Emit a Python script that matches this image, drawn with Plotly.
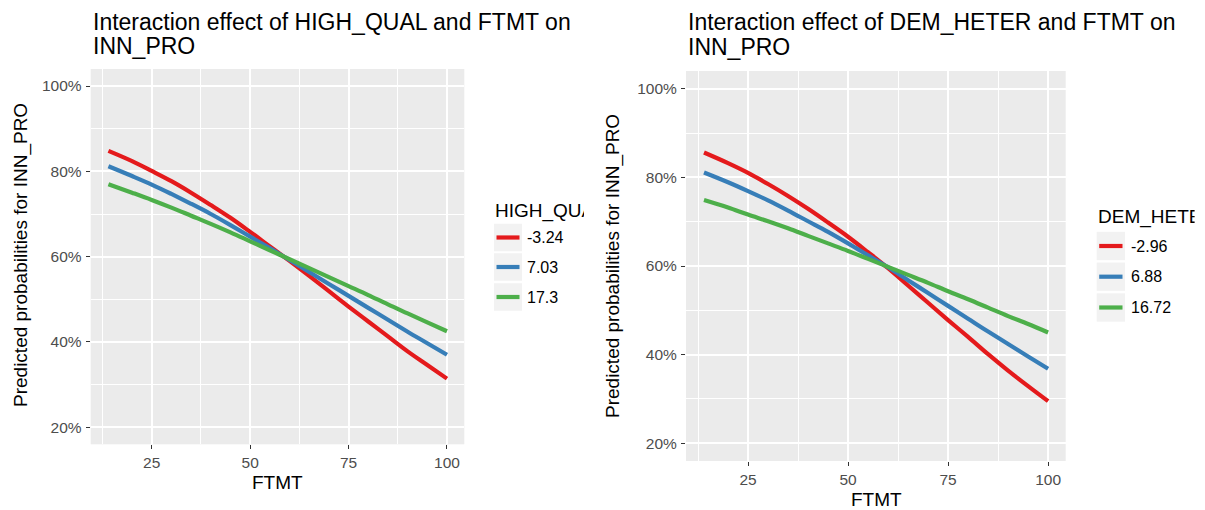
import plotly.graph_objects as go

W, H = 1205, 510
OFF = 8  # default page body margin in the written html

# ---------------- data ----------------
ftmt = [14, 20, 25, 30, 35, 40, 45, 50, 55, 60, 65, 70, 75, 80, 85, 90, 95, 100]

hq_levels = ["-3.24", "7.03", "17.3"]
hq_red = [0.848, 0.824, 0.801, 0.777, 0.750, 0.721, 0.691, 0.658, 0.624, 0.590, 0.555, 0.519,
          0.483, 0.448, 0.413, 0.378, 0.346, 0.314]
hq_blue = [0.812, 0.789, 0.769, 0.747, 0.724, 0.700, 0.674, 0.647, 0.620, 0.592, 0.564, 0.536,
           0.508, 0.480, 0.452, 0.424, 0.397, 0.370]
hq_green = [0.770, 0.750, 0.733, 0.715, 0.696, 0.677, 0.657, 0.636, 0.615, 0.594, 0.573, 0.552,
            0.531, 0.510, 0.488, 0.467, 0.446, 0.425]

dh_levels = ["-2.96", "6.88", "16.72"]
dh_red = [0.856, 0.832, 0.810, 0.785, 0.758, 0.729, 0.698, 0.666, 0.631, 0.595, 0.556, 0.517,
          0.478, 0.440, 0.401, 0.364, 0.329, 0.295]
dh_blue = [0.811, 0.789, 0.769, 0.748, 0.725, 0.701, 0.677, 0.651, 0.624, 0.597, 0.568, 0.539,
           0.510, 0.481, 0.452, 0.424, 0.396, 0.368]
dh_green = [0.749, 0.732, 0.716, 0.701, 0.685, 0.668, 0.651, 0.634, 0.616, 0.598, 0.580, 0.562,
            0.543, 0.525, 0.506, 0.487, 0.469, 0.450]

x_ticks = [25, 50, 75, 100]
y_ticks = [0.2, 0.4, 0.6, 0.8, 1.0]
y_tick_labels = ["20%", "40%", "60%", "80%", "100%"]

titles = ["Interaction effect of HIGH_QUAL and FTMT on", "Interaction effect of DEM_HETER and FTMT on"]
title_line2 = "INN_PRO"
legend_titles = ["HIGH_QUAL", "DEM_HETER"]
x_title = "FTMT"
y_title = "Predicted probabilities for INN_PRO"

colors = ["#E41A1C", "#377EB8", "#4DAF4A"]
FONT = "Liberation Sans, Arial, sans-serif"


def px(x):
    return (x - OFF) / W


def py(y):
    return 1 - (y - OFF) / H


fig = go.Figure()

panels = [
    dict(xd=(90.7, 464.3), yd=(69, 444.3), series=[hq_red, hq_blue, hq_green], levels=hq_levels,
         title_x=91.7, t1=21.7, t2=46.0, xt=(277.5, 482), yt=(21, 255),
         leg_x=494, leg_clip=89, leg_title_y=211, rows=[237.5, 267.0, 297.0], row_h=27.5,
         key_w=28, lab_x=526),
    dict(xd=(686, 1065.7), yd=(71, 461), series=[dh_red, dh_blue, dh_green], levels=dh_levels,
         title_x=686.7, t1=21.7, t2=46.8, xt=(876, 499), yt=(613, 266),
         leg_x=1096.7, leg_clip=96.6, leg_title_y=216.7, rows=[246.0, 276.7, 307.5], row_h=28.3,
         key_w=28.3, lab_x=1130),
]

shapes = []
annotations = []

for i, p in enumerate(panels):
    ax = "" if i == 0 else str(i + 1)
    for s, lvl, c in zip(p["series"], p["levels"], colors):
        fig.add_trace(go.Scatter(
            x=ftmt, y=s, mode="lines", name=lvl, showlegend=False,
            line=dict(color=c, width=4.2, shape="spline"),
            xaxis="x" + ax, yaxis="y" + ax, hoverinfo="skip"))

    axis_common = dict(showline=False, zeroline=False, ticks="outside", ticklen=4, tickwidth=1.4,
                       tickcolor="#333333", gridcolor="white", gridwidth=1.5,
                       tickfont=dict(family=FONT, size=15.5, color="#4D4D4D"))
    fig.layout["xaxis" + ax] = dict(
        domain=[px(p["xd"][0]), px(p["xd"][1])], range=[9.5, 104.4],
        anchor="y" + ax, tickvals=x_ticks, ticktext=[str(t) for t in x_ticks],
        minor=dict(showgrid=True, gridcolor="white", gridwidth=0.8, tick0=12.5, dtick=25, ticks=""),
        ticklabelstandoff=0, **axis_common)
    fig.layout["yaxis" + ax] = dict(
        domain=[py(p["yd"][1]), py(p["yd"][0])], range=[0.16, 1.04],
        anchor="x" + ax, tickvals=y_ticks, ticktext=y_tick_labels,
        minor=dict(showgrid=True, gridcolor="white", gridwidth=0.8, tick0=0.1, dtick=0.2, ticks=""),
        ticklabelstandoff=1, **axis_common)

    # titles
    annotations.append(dict(text=titles[i], x=px(p["title_x"]), y=py(p["t1"]), xref="paper", yref="paper",
                            xanchor="left", yanchor="middle", showarrow=False, borderpad=0,
                            font=dict(family=FONT, size=23, color="black")))
    annotations.append(dict(text=title_line2, x=px(p["title_x"]), y=py(p["t2"]), xref="paper", yref="paper",
                            xanchor="left", yanchor="middle", showarrow=False, borderpad=0,
                            font=dict(family=FONT, size=23, color="black")))
    # axis titles
    annotations.append(dict(text=x_title, x=px(p["xt"][0]), y=py(p["xt"][1]), xref="paper", yref="paper",
                            xanchor="center", yanchor="middle", showarrow=False,
                            font=dict(family=FONT, size=19, color="black")))
    annotations.append(dict(text=y_title, x=px(p["yt"][0]), y=py(p["yt"][1]), xref="paper", yref="paper",
                            xanchor="center", yanchor="middle", showarrow=False, textangle=-90,
                            font=dict(family=FONT, size=19, color="black")))
    # legend title (clipped like the reference)
    annotations.append(dict(text=legend_titles[i], x=px(p["leg_x"]), y=py(p["leg_title_y"]),
                            xref="paper", yref="paper", xanchor="left", yanchor="middle",
                            showarrow=False, width=p["leg_clip"], align="left", borderpad=0,
                            font=dict(family=FONT, size=19, color="black")))
    # legend keys
    for cy, lvl, c in zip(p["rows"], p["levels"], colors):
        shapes.append(dict(type="rect", xref="paper", yref="paper",
                           x0=px(p["leg_x"]), x1=px(p["leg_x"] + p["key_w"]),
                           y0=py(cy + p["row_h"] / 2), y1=py(cy - p["row_h"] / 2),
                           fillcolor="#F2F2F2", line=dict(width=0)))
        shapes.append(dict(type="line", xref="paper", yref="paper",
                           x0=px(p["leg_x"] + 2.5), x1=px(p["leg_x"] + p["key_w"] - 2.5),
                           y0=py(cy), y1=py(cy), line=dict(color=c, width=4.2)))
        annotations.append(dict(text=lvl, x=px(p["lab_x"]), y=py(cy), xref="paper", yref="paper",
                                xanchor="left", yanchor="middle", showarrow=False, borderpad=0,
                                font=dict(family=FONT, size=16, color="black")))

fig.update_layout(
    width=W, height=H, margin=dict(l=0, r=0, t=0, b=0),
    paper_bgcolor="white", plot_bgcolor="#EBEBEB",
    shapes=shapes, annotations=annotations, showlegend=False,
    font=dict(family=FONT),
)

fig.write_html("out.html")
